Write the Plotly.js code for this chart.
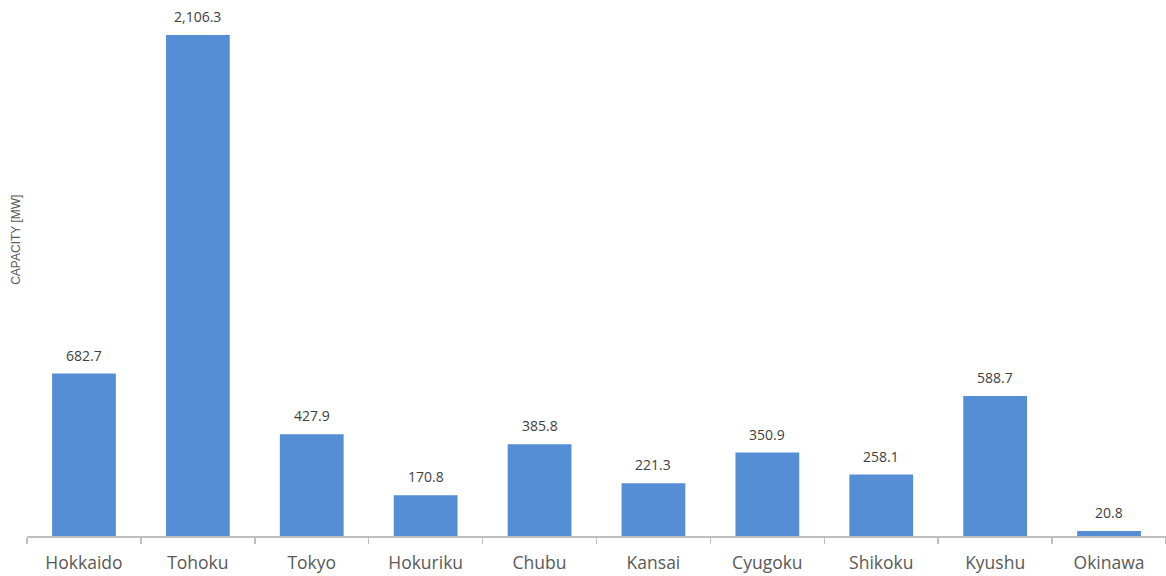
<!DOCTYPE html>
<html>
<head>
<meta charset="utf-8">
<script src="https://cdn.plot.ly/plotly-3.0.1.min.js"></script>
<style>html,body{margin:0;padding:0;background:#fff;}#chart{width:1166px;height:576px;}</style>
</head>
<body>
<div id="chart"></div>
<script>
var regions = ["Hokkaido","Tohoku","Tokyo","Hokuriku","Chubu","Kansai","Cyugoku","Shikoku","Kyushu","Okinawa"];
var capacityMW = [682.7, 2106.3, 427.9, 170.8, 385.8, 221.3, 350.9, 258.1, 588.7, 20.8];
var yTitle = "CAPACITY [MW]";

var trace = {
  type: "bar",
  x: regions,
  y: capacityMW,
  marker: {color: "#558ed5"},
  textposition: "none",
  hoverinfo: "x+y"
};

var annotations = regions.map(function(r, i){
  return {
    x: r, y: capacityMW[i], xref: "x", yref: "y",
    text: capacityMW[i].toLocaleString("en-US", {minimumFractionDigits:1, maximumFractionDigits:1}),
    showarrow: false, yanchor: "bottom", yshift: 7,
    font: {family: "Open Sans, Noto Sans, sans-serif", size: 14, color: "#404040"}
  };
});
annotations.push({
  xref: "paper", yref: "paper", x: -0.0097, y: 0.563, xanchor: "center", yanchor: "middle",
  text: yTitle, textangle: -90, showarrow: false,
  font: {family: "Liberation Sans, Arial, sans-serif", size: 12, color: "#595959"}
});

var layout = {
  width: 1166, height: 576,
  margin: {l: 27, r: 0, t: 10, b: 40},
  paper_bgcolor: "#ffffff", plot_bgcolor: "#ffffff",
  bargap: 0.44,
  showlegend: false,
  xaxis: {
    type: "category",
    showline: true, linecolor: "#bfbfbf", linewidth: 1.5,
    ticks: "outside", tickson: "boundaries", ticklen: 6, tickcolor: "#bfbfbf", tickwidth: 1.5,
    tickfont: {family: "Open Sans, Noto Sans, sans-serif", size: 17.5, color: "#595959"},
    ticklabelstandoff: 10,
    showgrid: false, zeroline: false
  },
  yaxis: {
    range: [0, 2211],
    showticklabels: false, showgrid: false, zeroline: false, showline: false, ticks: ""
  },
  annotations: annotations
};

Plotly.newPlot("chart", [trace], layout, {displayModeBar: false, staticPlot: true});
</script>
</body>
</html>
